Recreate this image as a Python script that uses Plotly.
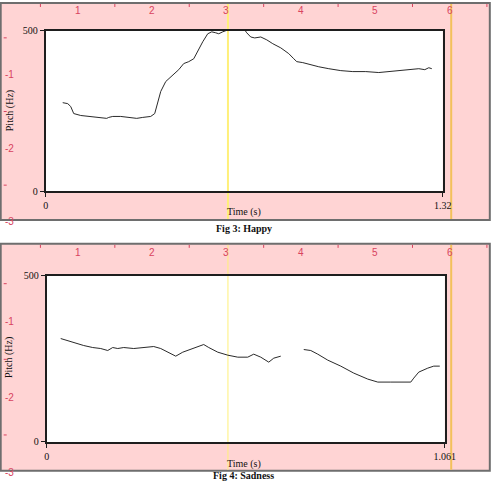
import plotly.graph_objects as go

# ---------------- data ----------------
happy_t = [0.0565, 0.0732, 0.0831, 0.0931, 0.1164, 0.1496, 0.1829, 0.2028, 0.2095, 0.2228,
           0.2494, 0.2826, 0.3026, 0.3225, 0.3491, 0.3624, 0.3724, 0.3824, 0.3990, 0.4223,
           0.4422, 0.4588, 0.4755, 0.4921, 0.5087, 0.5220, 0.5386, 0.5519, 0.5652, 0.5752,
           0.5885, 0.6085, 0.6218, 0.6350, 0.6550, 0.6683, 0.6816, 0.6949, 0.7149, 0.7348,
           0.7548, 0.7814, 0.8080, 0.8246, 0.8346, 0.8545, 0.8811, 0.9077, 0.9410, 0.9809,
           1.0208, 1.0640, 1.1072, 1.1471, 1.1804, 1.2136, 1.2402, 1.2602, 1.2735, 1.2834]
happy_f = [276, 273, 264, 242, 236, 233, 230, 227, 230, 233,
           233, 230, 227, 230, 233, 242, 280, 311, 342, 363,
           379, 398, 404, 413, 444, 466, 491, 497, 494, 491,
           497, 506, 509, 520, 512, 494, 481, 478, 481, 472,
           460, 447, 429, 413, 404, 401, 394, 388, 382, 376,
           373, 373, 370, 373, 376, 379, 382, 379, 385, 382]

sad_t = [0.0373, 0.0560, 0.0773, 0.0986, 0.1226, 0.1440, 0.1626, 0.1759, 0.1893, 0.2053,
         0.2319, 0.2693, 0.2852, 0.3039, 0.3226, 0.3439, 0.3626, 0.3919, 0.4185, 0.4319,
         0.4559, 0.4825, 0.5092, 0.5358, 0.5518, 0.5705, 0.5918, 0.6051, 0.6238, None,
         0.6851, 0.7038, 0.7224, 0.7491, 0.7838, 0.8184, 0.8557, 0.8824, 0.9170, 0.9703,
         0.9783, 0.9916, 1.0156, 1.0316, 1.0476]
sad_f = [311, 305, 296, 290, 284, 281, 275, 284, 281, 284,
         281, 284, 287, 281, 270, 258, 270, 281, 293, 284,
         270, 261, 255, 255, 264, 255, 240, 252, 258, None,
         278, 275, 264, 246, 228, 207, 189, 180, 180, 180,
         192, 210, 222, 228, 228]

x_ticks_1 = [0, 1.32]
x_ticks_2 = [0, 1.061]
y_ticks = [0, 500]
ruler_top = [1, 2, 3, 4, 5, 6]
ruler_top_minor = [0.5, 1.5, 2.5, 3.5, 4.5, 5.5, 6.5]
ruler_left = [-1, -2, -3]
ruler_left_minor = [-0.5, -1.5, -2.5]
yellow_marks = [3, 6]
captions = ["Fig 3: Happy", "Fig 4: Sadness"]

# ---------------- layout helpers ----------------
# target page pixel P  <->  figure pixel F :  P = A + B * F
AX, BX = 2.3, 0.972
AY, BY = 4.0, 0.98
W, H = 504, 487
def fx(p):
    return (p - AX) / BX
def fy(p):
    return (p - AY) / BY
def px(p):
    return fx(p) / W
def py(p):
    return 1 - fy(p) / H

PINK = "#ffd4d4"
RED = "#d8435f"
SERIF = "Liberation Serif"
SANS = "Liberation Sans"

fig = go.Figure()
fig.add_trace(go.Scatter(x=happy_t, y=happy_f, mode="lines", xaxis="x", yaxis="y",
                         line=dict(color="#2a2a2a", width=1), connectgaps=False,
                         showlegend=False, hoverinfo="skip"))
fig.add_trace(go.Scatter(x=sad_t, y=sad_f, mode="lines", xaxis="x2", yaxis="y2",
                         line=dict(color="#2a2a2a", width=1), connectgaps=False,
                         showlegend=False, hoverinfo="skip"))

common_axis = dict(showline=True, mirror=True, linewidth=2, linecolor="#1e1e1e",
                   showgrid=False, zeroline=False, ticks="outside", ticklen=4,
                   tickwidth=1, tickcolor="#1e1e1e",
                   tickfont=dict(family=SERIF, size=10, color="#111"))

panels = [
    dict(top=1, bottom=219, x0=45, x1=442, yt=29, yb=190, xmax=1.32, xt=x_ticks_1,
         time_y=211, pitch_y=109, cap_y=228),
    dict(top=243, bottom=471, x0=46, x1=444, yt=275, yb=442, xmax=1.061, xt=x_ticks_2,
         time_y=464, pitch_y=357, cap_y=476),
]

layout = dict(
    width=W, height=H, autosize=False, margin=dict(l=0, r=0, t=0, b=0, pad=0),
    paper_bgcolor="white", plot_bgcolor="rgba(0,0,0,0)", showlegend=False,
)

for i, p in enumerate(panels):
    xs = "" if i == 0 else "2"
    layout["xaxis" + xs] = dict(common_axis, domain=[px(p["x0"]), px(p["x1"])],
                                range=[0, p["xmax"]], tickvals=p["xt"],
                                ticktext=[str(v) for v in p["xt"]],
                                anchor="y" + xs, fixedrange=True)
    layout["yaxis" + xs] = dict(common_axis, domain=[py(p["yb"]), py(p["yt"])],
                                range=[0, 500], tickvals=y_ticks,
                                ticktext=[str(v) for v in y_ticks],
                                anchor="x" + xs, fixedrange=True)

# hidden ruler axes. Horizontal ruler value r sits at page pixel 2.5 + 74.4 r
P_left, P_right = AX, AX + BX * W
P_top, P_bot = AY, AY + BY * H
layout["xaxis3"] = dict(domain=[0, 1], range=[(P_left - 2.5) / 74.4, (P_right - 2.5) / 74.4],
                        visible=False, anchor="y3", fixedrange=True)
# vertical rulers: page pixel = -1 - 74 r (panel 1), 245 - 76 r (panel 2)
layout["yaxis3"] = dict(domain=[0, 1], range=[-(P_bot + 1) / 74, -(P_top + 1) / 74],
                        visible=False, anchor="x3", fixedrange=True)
layout["yaxis4"] = dict(domain=[0, 1], range=[(245 - P_bot) / 76, (245 - P_top) / 76],
                        visible=False, anchor="x3", fixedrange=True)

shapes = []
annotations = []
for i, p in enumerate(panels):
    xs = "" if i == 0 else "2"
    ry = "y3" if i == 0 else "y4"
    shapes.append(dict(type="rect", xref="paper", yref="paper", layer="below",
                       x0=px(0), x1=px(489), y0=py(p["bottom"]), y1=py(p["top"]),
                       fillcolor=PINK, line=dict(color="#6e6e6e", width=2)))
    shapes.append(dict(type="rect", xref="x" + xs + " domain", yref="y" + xs + " domain",
                       layer="below", x0=0, x1=1, y0=0, y1=1,
                       fillcolor="white", line=dict(width=0)))
    for m in yellow_marks:
        col = "#fff07a" if m == 3 else "#f3c15a"
        wid = 2 if (m == 6 or i == 0) else 1
        shapes.append(dict(type="line", xref="x3", yref="paper", layer="below",
                           xsizemode="pixel", xanchor=m, x0=1.5, x1=1.5,
                           y0=py(p["bottom"] - 1), y1=py(p["top"] + 1),
                           line=dict(color=col, width=wid)))
    for r in ruler_top:
        annotations.append(dict(xref="x3", yref="paper", x=r, y=py(p["top"] + 8 + i),
                                text=str(r), showarrow=False, xanchor="center",
                                yanchor="middle",
                                font=dict(family=SANS, size=10, color=RED)))
    for r in ruler_top_minor:
        shapes.append(dict(type="line", xref="x3", yref="paper", x0=r, x1=r,
                           y0=py(p["top"] + 4), y1=py(p["top"] + 1),
                           line=dict(color=RED, width=1)))
    for r in ruler_left:
        annotations.append(dict(xref="paper", yref=ry, x=px(2), y=r, text=str(r),
                                showarrow=False, xanchor="left", yanchor="middle",
                                font=dict(family=SANS, size=10, color=RED)))
    for r in ruler_left_minor:
        shapes.append(dict(type="line", xref="paper", yref=ry, x0=px(3), x1=px(6),
                           y0=r, y1=r, line=dict(color=RED, width=1)))
    annotations.append(dict(xref="paper", yref="paper", x=px(243), y=py(p["time_y"]),
                            text="Time (s)", showarrow=False, xanchor="center",
                            yanchor="middle", font=dict(family=SERIF, size=10, color="#111")))
    annotations.append(dict(xref="paper", yref="paper", x=px(9), y=py(p["pitch_y"]),
                            text="Pitch (Hz)", textangle=-90, showarrow=False,
                            xanchor="center", yanchor="middle",
                            font=dict(family=SERIF, size=10, color="#111")))
    annotations.append(dict(xref="paper", yref="paper", x=px(243), y=py(p["cap_y"]),
                            text="<b>" + captions[i] + "</b>", showarrow=False,
                            xanchor="center", yanchor="middle",
                            font=dict(family=SERIF, size=10, color="#111")))

layout["shapes"] = shapes
layout["annotations"] = annotations
fig.update_layout(**layout)
fig.write_html("out.html", config={"responsive": False, "displayModeBar": False})
